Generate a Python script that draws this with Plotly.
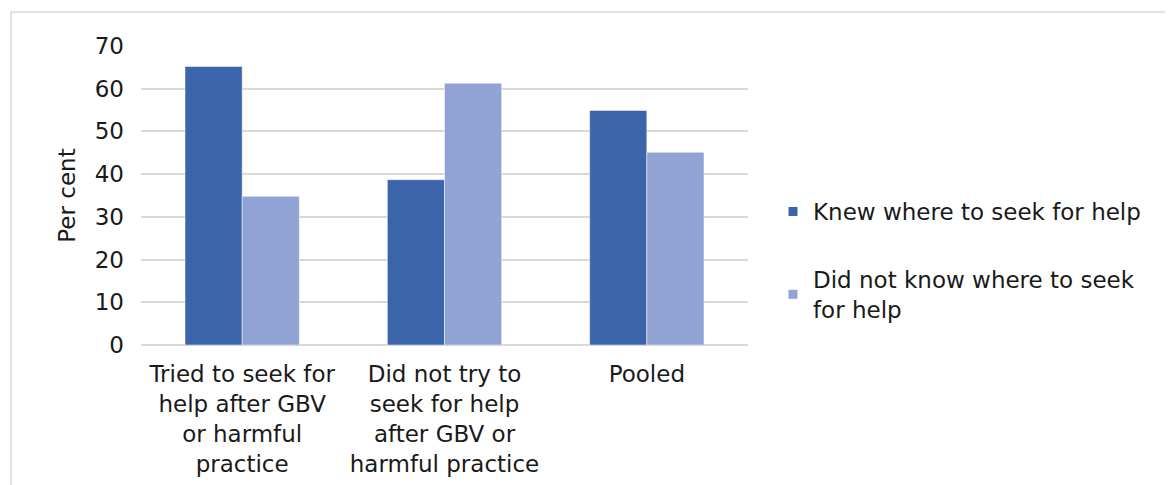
import plotly.graph_objects as go

categories = [
    "Tried to seek for<br>help after GBV<br>or harmful<br>practice",
    "Did not try to<br>seek for help<br>after GBV or<br>harmful practice",
    "Pooled",
]
series_names = ["Knew where to seek for help", "Did not know where to seek<br>for help"]
knew = [65.2, 38.7, 54.9]
did_not_know = [34.8, 61.3, 45.1]
colors = ["#3C64AB", "#90A3D4"]
y_ticks = [0, 10, 20, 30, 40, 50, 60, 70]

FONT = "DejaVu Sans"
TXT = "#1a1a1a"
FS = 23

fig = go.Figure()
for name, vals, col, grp in [(series_names[0], knew, colors[0], "a"),
                             (series_names[1], did_not_know, colors[1], "b")]:
    fig.add_trace(go.Bar(x=categories, y=vals, name=name,
                         marker=dict(color=col, line=dict(color="rgba(255,255,255,0.6)", width=0.8)),
                         showlegend=False, legendgroup=grp))
    fig.add_trace(go.Scatter(x=[categories[0]], y=[None], mode="markers", name=name,
                             marker=dict(symbol="square", size=9, color=col),
                             legendgroup=grp, showlegend=True))

# page body has an 8px margin; work in page coordinates and shift
OFF = 8
L, R, T, B = 141 - OFF, 748 - OFF, 46 - OFF, 345 - OFF
W, H = 1173 - OFF, 485 - OFF
pw, ph = R - L, B - T

def px(x):
    return (x - OFF - L) / pw

def py(y):
    return (B - (y - OFF)) / ph

fig.update_layout(
    width=W, height=H,
    margin=dict(l=L, r=W - R, t=T, b=H - B, autoexpand=False),
    paper_bgcolor="white", plot_bgcolor="white",
    barmode="group", bargap=0.435, bargroupgap=0,
    font=dict(family=FONT, size=FS, color=TXT),
    xaxis=dict(showgrid=False, showline=False, ticks="", ticklabelstandoff=13,
               tickfont=dict(size=FS, color=TXT)),
    yaxis=dict(range=[0, 70], tickvals=y_ticks, showgrid=True, gridcolor="#d9d9d9", gridwidth=1.5,
               zeroline=True, zerolinecolor="#d9d9d9", zerolinewidth=1.5,
               showline=False, ticks="", ticklabelstandoff=16,
               tickfont=dict(size=FS, color=TXT),
               title=dict(text="Per cent", font=dict(size=FS, color=TXT), standoff=12)),
    legend=dict(x=px(773), y=py(190), xanchor="left", yanchor="top", itemwidth=30,
                tracegroupgap=35, font=dict(size=FS, color=TXT), bgcolor="rgba(0,0,0,0)"),
    shapes=[
        dict(type="line", xref="paper", yref="paper", x0=px(11), x1=px(1173), y0=py(12), y1=py(12),
             line=dict(color="#d9d9d9", width=1.5)),
        dict(type="line", xref="paper", yref="paper", x0=px(11), x1=px(11), y0=py(12), y1=py(485),
             line=dict(color="#d9d9d9", width=1.5)),
    ],
)

fig.write_html("out.html")
